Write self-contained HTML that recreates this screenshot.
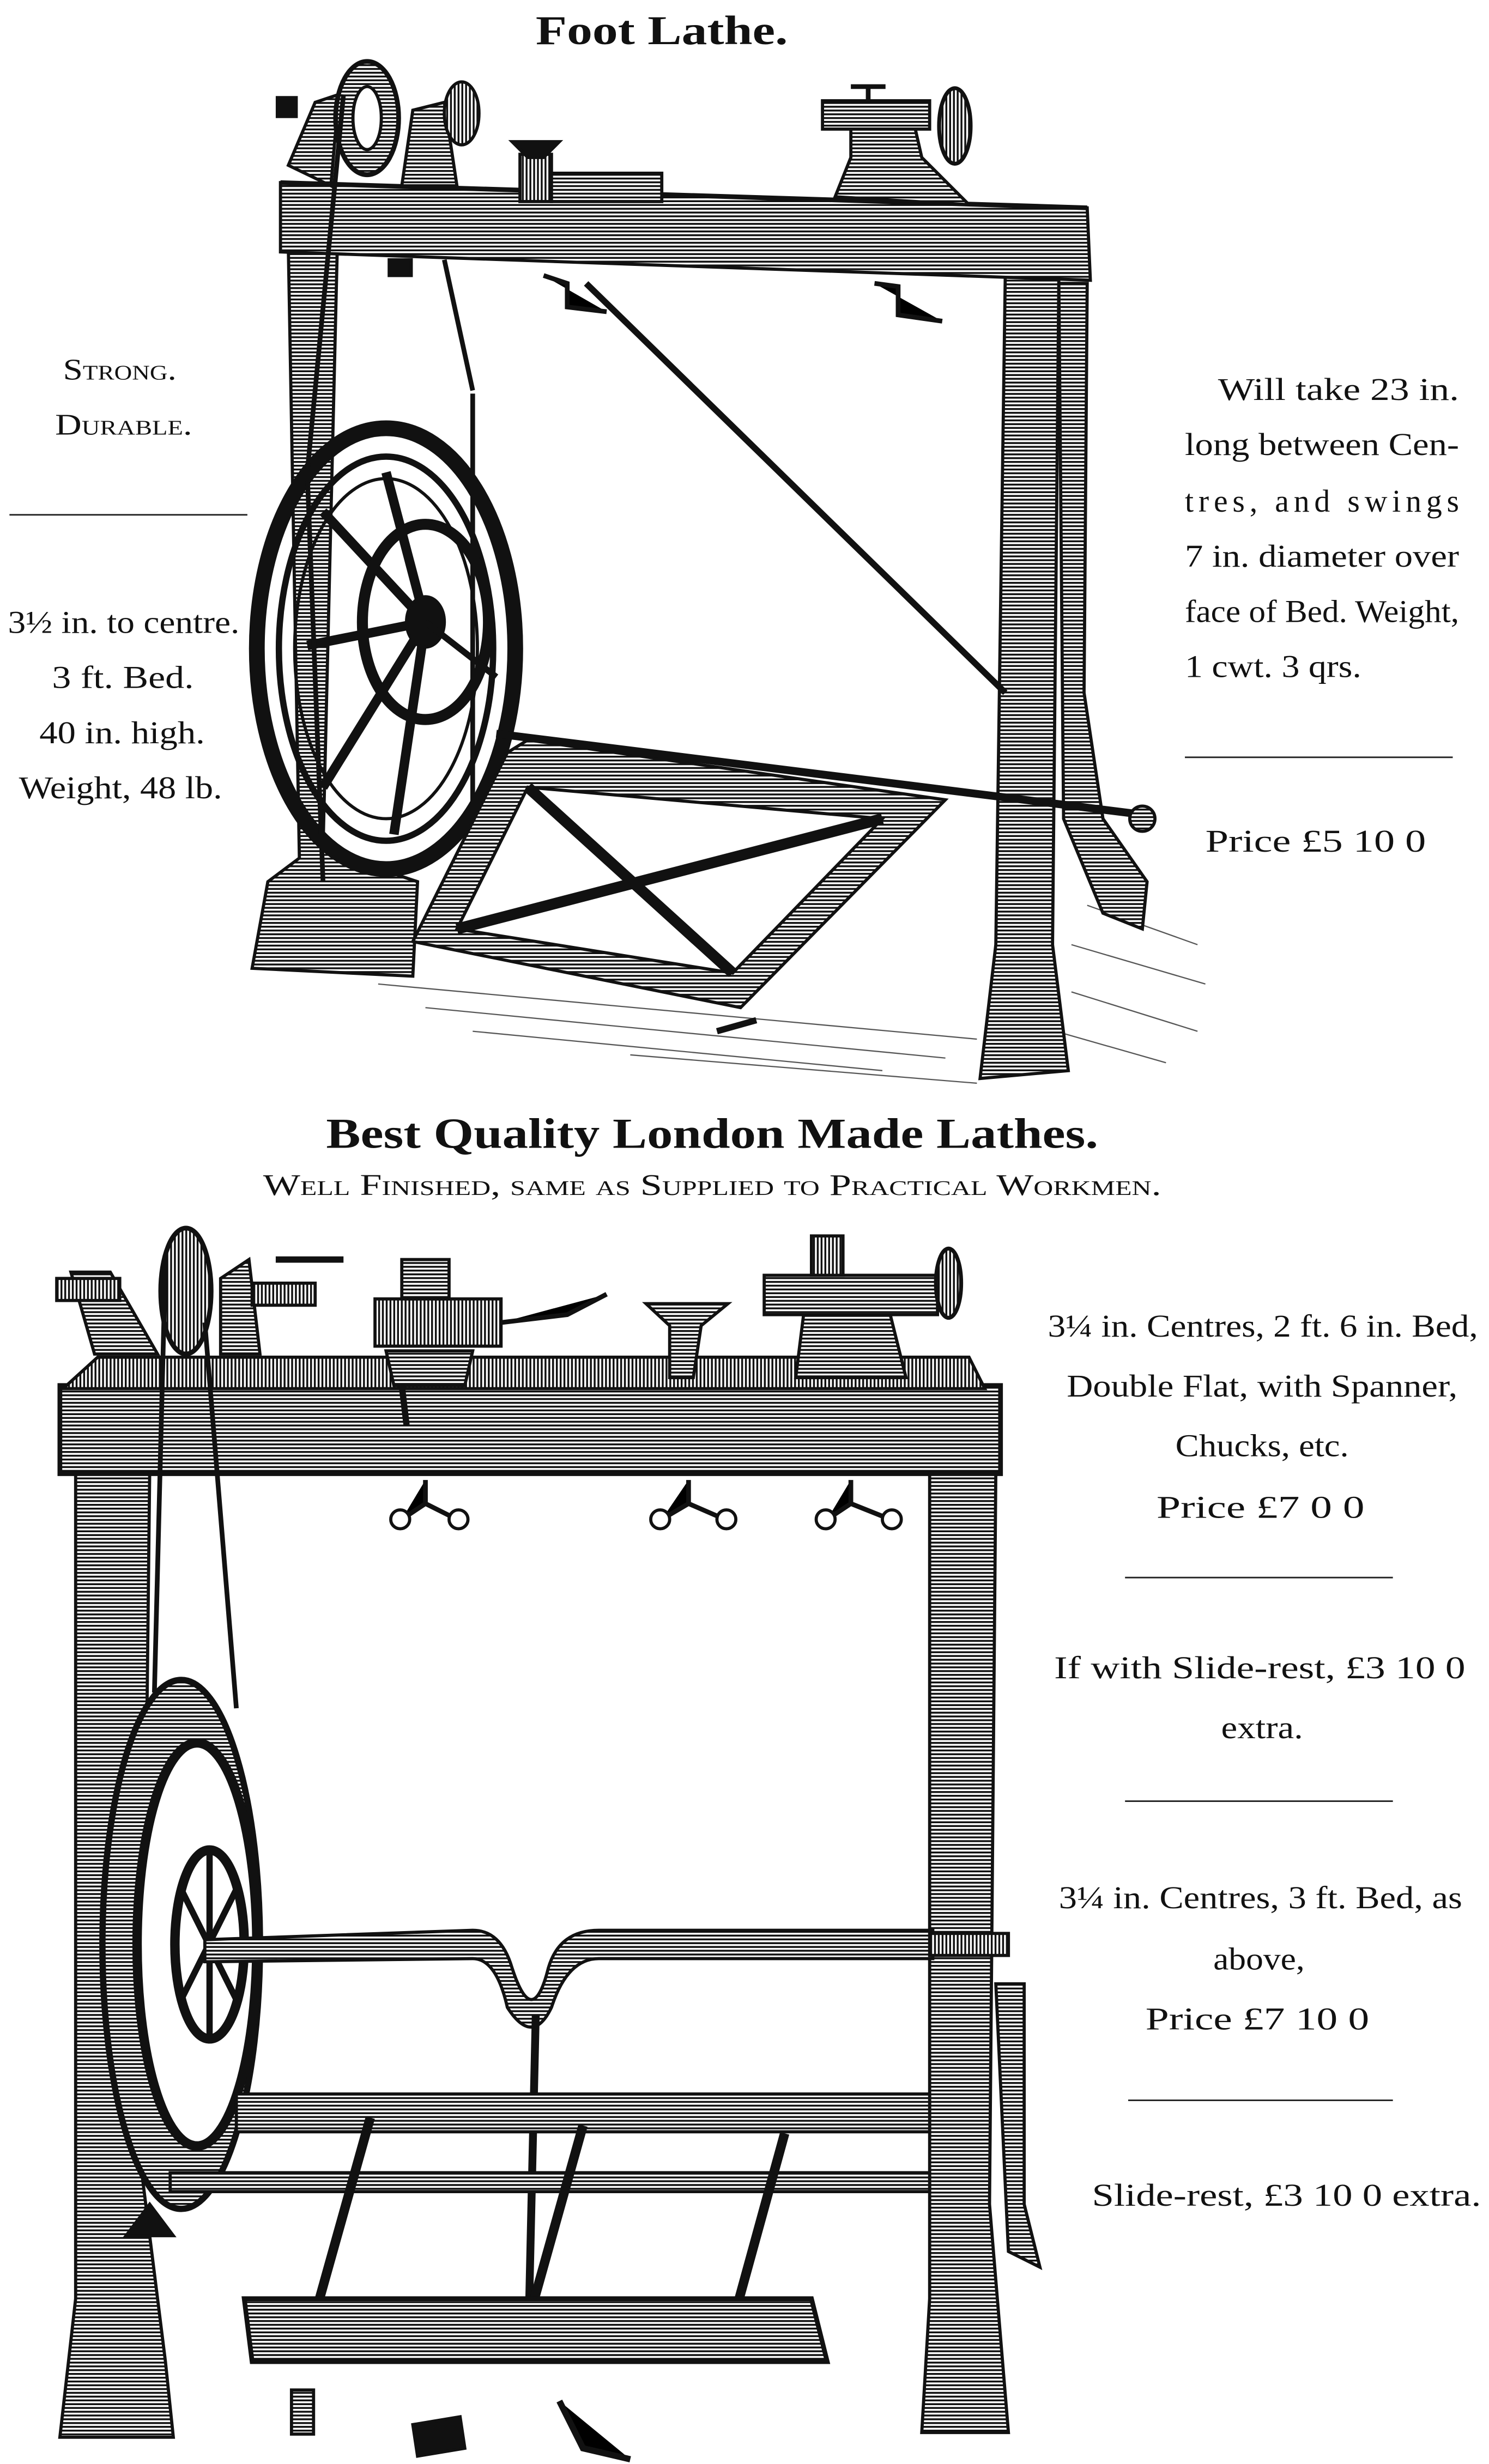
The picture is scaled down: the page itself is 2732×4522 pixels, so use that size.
<!DOCTYPE html>
<html><head><meta charset="utf-8"><style>
html,body{margin:0;padding:0;background:#fff;}
svg{display:block;}
text{font-family:"Liberation Serif",serif;fill:#111;}
.sc{font-variant:small-caps;}
</style></head><body>
<svg width="2732" height="4522" viewBox="0 0 945 1565" preserveAspectRatio="none" xmlns="http://www.w3.org/2000/svg">
<defs>
<pattern id="h" width="4" height="2.4" patternUnits="userSpaceOnUse"><rect width="4" height="2.4" fill="#fff"/><rect y="0" width="4" height="1.2" fill="#111"/></pattern>
<pattern id="v" width="2.4" height="4" patternUnits="userSpaceOnUse"><rect width="2.4" height="4" fill="#fff"/><rect width="1.2" height="4" fill="#111"/></pattern>
</defs>
<rect width="945" height="1565" fill="#fff"/>

<!-- TEXT -->
<text x="340" y="28" font-size="26" font-weight="bold" textLength="160" lengthAdjust="spacingAndGlyphs">Foot Lathe.</text>
<text x="40" y="241" font-size="19" class="sc" textLength="72" lengthAdjust="spacingAndGlyphs">Strong.</text>
<text x="35" y="276" font-size="19" class="sc" textLength="87" lengthAdjust="spacingAndGlyphs">Durable.</text>
<line x1="6" y1="327" x2="157" y2="327" stroke="#222" stroke-width="1"/>
<g font-size="20" lengthAdjust="spacingAndGlyphs">
<text x="5" y="402" textLength="147" lengthAdjust="spacingAndGlyphs">3½ in. to centre.</text>
<text x="33" y="437" textLength="90" lengthAdjust="spacingAndGlyphs">3 ft.  Bed.</text>
<text x="25" y="472" textLength="105" lengthAdjust="spacingAndGlyphs">40 in. high.</text>
<text x="12" y="507" textLength="129" lengthAdjust="spacingAndGlyphs">Weight, 48 lb.</text>
</g>
<g font-size="20">
<text x="773" y="254" textLength="153" lengthAdjust="spacingAndGlyphs">Will take 23 in.</text>
<text x="752" y="289" textLength="174" lengthAdjust="spacingAndGlyphs">long between Cen-</text>
<text x="752" y="325" textLength="174" lengthAdjust="spacing">tres,  and  swings</text>
<text x="752" y="360" textLength="174" lengthAdjust="spacingAndGlyphs">7 in. diameter over</text>
<text x="752" y="395" textLength="174" lengthAdjust="spacingAndGlyphs">face of Bed. Weight,</text>
<text x="752" y="430" textLength="112" lengthAdjust="spacingAndGlyphs">1 cwt. 3 qrs.</text>
<text x="765" y="541" textLength="140" lengthAdjust="spacingAndGlyphs">Price £5  10  0</text>
</g>
<line x1="752" y1="481" x2="922" y2="481" stroke="#222" stroke-width="1"/>

<text x="207" y="729" font-size="27" font-weight="bold" textLength="490" lengthAdjust="spacingAndGlyphs">Best Quality London Made Lathes.</text>
<text x="167" y="759" font-size="19" class="sc" textLength="570" lengthAdjust="spacingAndGlyphs">Well Finished, same as Supplied to Practical Workmen.</text>

<g font-size="20">
<text x="665" y="849" textLength="273" lengthAdjust="spacingAndGlyphs">3¼ in. Centres, 2 ft. 6 in. Bed,</text>
<text x="677" y="887" textLength="248" lengthAdjust="spacingAndGlyphs">Double Flat, with Spanner,</text>
<text x="746" y="925" textLength="110" lengthAdjust="spacingAndGlyphs">Chucks, etc.</text>
<text x="734" y="964" textLength="132" lengthAdjust="spacingAndGlyphs">Price £7  0  0</text>
<text x="669" y="1066" textLength="261" lengthAdjust="spacingAndGlyphs">If with Slide-rest, £3  10  0</text>
<text x="775" y="1104" textLength="52" lengthAdjust="spacingAndGlyphs">extra.</text>
<text x="672" y="1212" textLength="256" lengthAdjust="spacingAndGlyphs">3¼ in. Centres, 3 ft. Bed, as</text>
<text x="770" y="1251" textLength="58" lengthAdjust="spacingAndGlyphs">above,</text>
<text x="727" y="1289" textLength="142" lengthAdjust="spacingAndGlyphs">Price £7  10  0</text>
<text x="693" y="1401" textLength="247" lengthAdjust="spacingAndGlyphs">Slide-rest, £3  10  0 extra.</text>
</g>
<g stroke="#222" stroke-width="1">
<line x1="714" y1="1002" x2="884" y2="1002"/>
<line x1="714" y1="1144" x2="884" y2="1144"/>
<line x1="716" y1="1334" x2="884" y2="1334"/>
</g>

<!-- TOP LATHE -->
<g stroke="#111" stroke-width="2">
<g stroke-width="0.8" opacity="0.7">
<path d="M240 625 L620 660 M270 640 L600 672 M300 655 L560 680 M400 670 L620 688 M690 575 L760 600 M680 600 L765 625 M680 630 L760 655 M670 655 L740 675"/>
</g>
<path d="M183 158 L214 160 L205 540 L265 560 L262 620 L160 615 L170 560 L190 545 Z" fill="url(#h)"/>
<path d="M638 175 L672 177 L668 600 L678 680 L622 685 L632 600 Z" fill="url(#h)"/>
<path d="M672 180 L690 180 L688 440 L700 520 L728 560 L725 590 L700 580 L675 520 Z" fill="url(#h)"/>
<path d="M178 116 L690 132 L692 178 L178 160 Z" fill="url(#h)"/>
<path d="M178 116 L690 132" stroke-width="3"/>
<path d="M183 105 L200 65 L215 60 L210 118 Z" fill="url(#h)"/>
<path d="M255 118 L262 70 L282 65 L290 118 Z" fill="url(#h)"/>
<ellipse cx="233" cy="75" rx="20" ry="36" fill="url(#h)" stroke-width="3"/>
<ellipse cx="233" cy="75" rx="9" ry="20" fill="#fff"/>
<ellipse cx="293" cy="72" rx="11" ry="20" fill="url(#v)"/>
<rect x="176" y="62" width="12" height="12" fill="#111"/>
<rect x="330" y="98" width="20" height="30" fill="url(#v)"/>
<path d="M325 90 L355 90 L345 100 L335 100 Z" fill="#111"/>
<path d="M350 110 L420 110 L420 128 L350 128Z" fill="url(#h)"/>
<path d="M530 125 L540 100 L540 80 L580 78 L585 100 L615 130 Z" fill="url(#h)"/>
<rect x="522" y="64" width="68" height="18" fill="url(#h)"/>
<ellipse cx="606" cy="80" rx="10" ry="24" fill="url(#v)" stroke-width="2.5"/>
<path d="M540 55 L562 55 M551 55 L551 65" stroke-width="3"/>
<path d="M345 175 L360 180 L360 195 L385 198" stroke-width="3"/>
<path d="M555 180 L570 182 L570 200 L598 204" stroke-width="3"/>
<rect x="247" y="165" width="14" height="10" fill="#111"/>
<path d="M372 180 L638 440" stroke-width="4"/>
<path d="M282 165 L300 248" stroke-width="3"/>
<ellipse cx="245" cy="412" rx="82" ry="140" fill="none" stroke-width="10"/>
<ellipse cx="245" cy="412" rx="68" ry="122" fill="none" stroke-width="4"/>
<ellipse cx="245" cy="412" rx="58" ry="108" fill="none" stroke-width="2"/>
<g stroke-width="6">
<path d="M270 395 L245 300 M270 395 L205 325 M270 395 L195 410 M270 395 L205 500 M270 395 L250 530"/>
</g>
<ellipse cx="270" cy="395" rx="40" ry="62" fill="none" stroke-width="7"/>
<ellipse cx="270" cy="395" rx="12" ry="16" fill="#111"/>
<path d="M270 395 L315 430" stroke-width="4"/>
<path d="M218 60 L195 300 L205 560" stroke-width="3" fill="none"/>
<path d="M300 250 L300 545" stroke-width="3"/>
<path d="M262 598 L322 478 L335 470 L600 508 L470 640 Z" fill="url(#h)" stroke-width="2"/>
<path d="M290 590 L335 500 L560 520 L465 618 Z" fill="#fff"/>
<path d="M335 500 L465 618 M560 520 L290 590" stroke-width="7"/>
<path d="M315 466 L730 518" stroke-width="5"/>
<circle cx="725" cy="520" r="8" fill="url(#h)"/>
<path d="M455 655 L480 648" stroke-width="4"/>
</g>

<!-- BOTTOM LATHE -->
<g stroke="#111" stroke-width="2">
<path d="M48 935 L95 935 L90 1380 L105 1500 L110 1548 L38 1548 L48 1460 Z" fill="url(#h)"/>
<path d="M590 935 L632 935 L628 1400 L640 1545 L585 1545 L590 1460 Z" fill="url(#h)"/>
<path d="M632 1260 L650 1260 L650 1400 L660 1440 L640 1430 Z" fill="url(#h)"/>
<rect x="38" y="880" width="597" height="56" fill="url(#h)" stroke-width="3"/>
<path d="M62 862 L615 862 L625 882 L40 882 Z" fill="url(#v)"/>
<path d="M45 808 L70 808 L100 860 L60 860 Z" fill="url(#h)"/>
<path d="M140 812 L158 800 L165 860 L140 860 Z" fill="url(#h)"/>
<ellipse cx="118" cy="820" rx="16" ry="40" fill="url(#v)" stroke-width="3"/>
<rect x="36" y="812" width="40" height="14" fill="url(#v)"/>
<rect x="160" y="815" width="40" height="14" fill="url(#v)"/>
<path d="M175 800 L218 800" stroke-width="4"/>
<rect x="238" y="825" width="80" height="30" fill="url(#v)"/>
<rect x="255" y="800" width="30" height="25" fill="url(#h)"/>
<path d="M245 858 L300 858 L295 880 L250 880 Z" fill="url(#h)"/>
<path d="M255 880 L258 905" stroke-width="4"/>
<path d="M318 840 L360 835 L385 822" stroke-width="3"/>
<path d="M410 828 L462 828 L445 842 L440 875 L425 875 L425 842 Z" fill="url(#h)"/>
<path d="M505 875 L510 835 L565 835 L575 875 Z" fill="url(#h)"/>
<rect x="485" y="810" width="110" height="25" fill="url(#h)"/>
<rect x="515" y="785" width="20" height="25" fill="url(#v)"/>
<ellipse cx="602" cy="815" rx="8" ry="22" fill="url(#v)" stroke-width="2.5"/>
<g stroke-width="3">
<path d="M270 940 L270 955 L255 965 M270 955 L290 965"/>
<path d="M437 940 L437 955 L420 965 M437 955 L460 965"/>
<path d="M540 940 L540 955 L525 965 M540 955 L565 965"/>
</g>
<g fill="#fff"><circle cx="254" cy="965" r="6"/><circle cx="291" cy="965" r="6"/><circle cx="419" cy="965" r="6"/><circle cx="461" cy="965" r="6"/><circle cx="524" cy="965" r="6"/><circle cx="566" cy="965" r="6"/></g>
<path d="M105 800 L98 1075 M130 840 L150 1085" stroke-width="3"/>
<ellipse cx="115" cy="1235" rx="50" ry="168" fill="url(#h)" stroke-width="4"/>
<ellipse cx="125" cy="1235" rx="38" ry="128" fill="#fff" stroke-width="6"/>
<ellipse cx="133" cy="1235" rx="22" ry="60" fill="none" stroke-width="6"/>
<path d="M133 1175 L133 1295 M115 1200 L150 1270 M115 1270 L150 1200" stroke-width="4"/>
<path d="M130 1232 L300 1226 Q318 1226 325 1250 Q338 1290 348 1250 Q355 1226 380 1226 L592 1226 L592 1244 L380 1244 Q360 1244 350 1275 Q338 1300 322 1275 Q315 1244 300 1244 L130 1246 Z" fill="url(#h)"/>
<rect x="590" y="1228" width="50" height="14" fill="url(#v)"/>
<path d="M340 1280 L335 1500" stroke-width="5"/>
<rect x="150" y="1330" width="440" height="24" fill="url(#h)"/>
<path d="M108 1380 L590 1380 L590 1392 L108 1392 Z" fill="url(#h)"/>
<path d="M235 1345 L200 1470 M370 1350 L335 1475 M498 1355 L465 1475" stroke-width="6"/>
<path d="M155 1460 L515 1460 L525 1500 L160 1500 Z" fill="url(#h)" stroke-width="3"/>
<path d="M95 1400 L110 1420 L80 1420 Z" fill="#111"/>
<rect x="185" y="1518" width="14" height="28" fill="url(#h)"/>
<path d="M262 1540 L292 1535 L295 1555 L265 1560 Z" fill="#111"/>
<path d="M355 1525 L370 1555 L400 1562" stroke-width="4"/>
</g>
</svg>
</body></html>
